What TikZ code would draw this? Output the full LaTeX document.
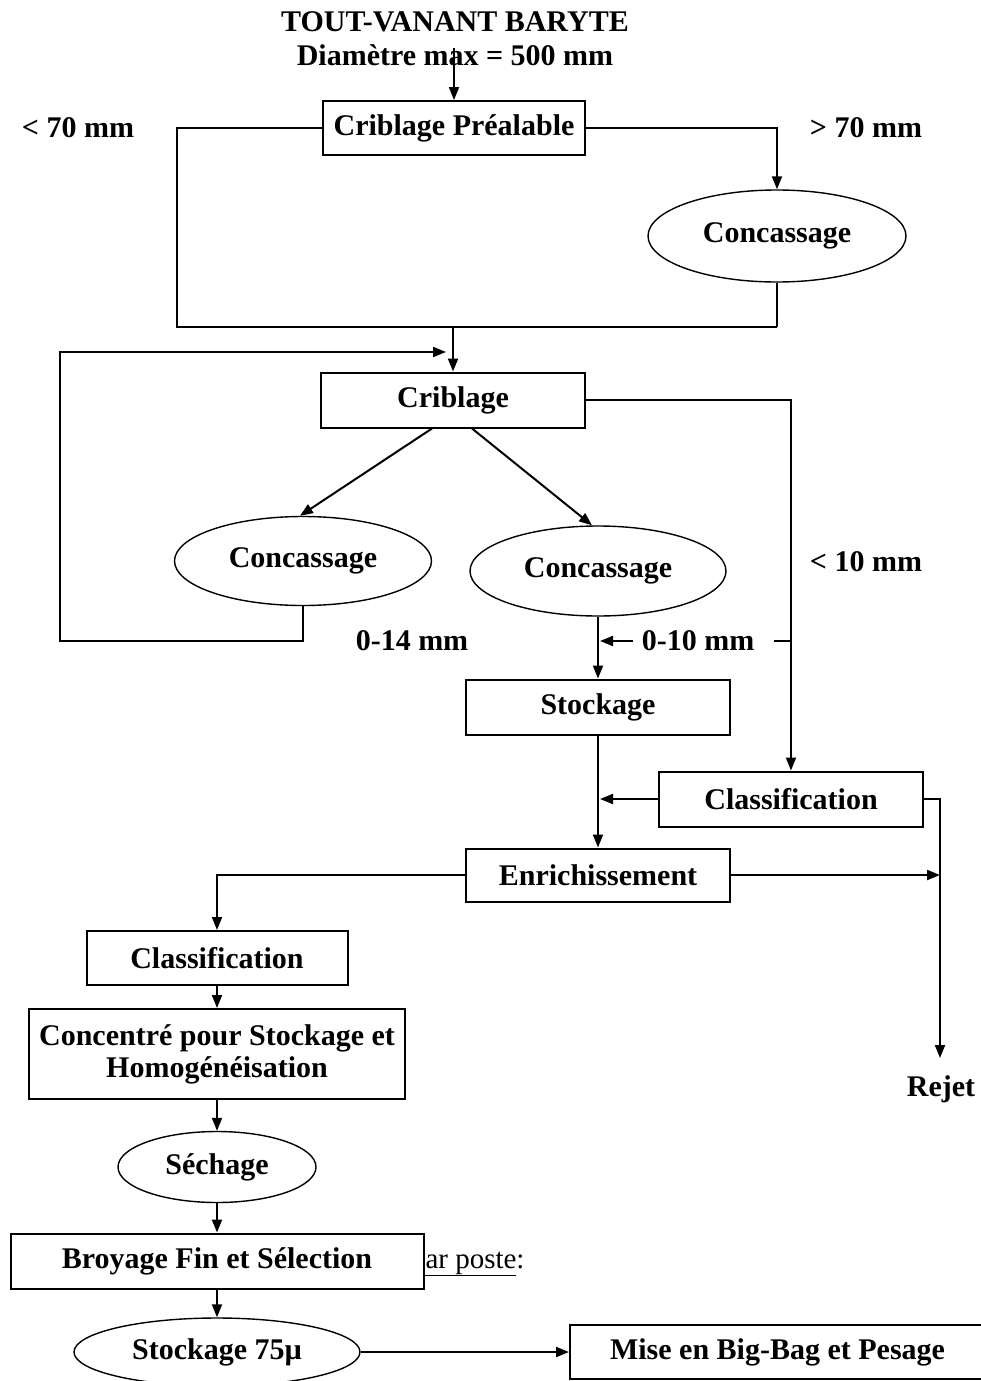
\documentclass[tikz,border=0pt]{standalone}
\usepackage{fontspec}
\setmainfont{Liberation Serif}
\usetikzlibrary{arrows.meta,shapes.geometric}
\begin{document}
\begin{tikzpicture}[x=1pt,y=-1pt,line width=2pt,
  every node/.style={font=\bfseries\fontsize{30}{32}\selectfont,inner sep=0pt},
  box/.style={draw,fill=white,rectangle,line width=2pt},
  oval/.style={draw,fill=white,ellipse,line width=1.4pt},
  arr/.style={-{Triangle[length=13pt,width=10pt]}}]
\useasboundingbox (0,0) rectangle (980,1381);
% titles
\node (t1) at (455,22) {TOUT-VANANT BARYTE};
\node (t2) at (455,55) {Diamètre max = 500 mm};
% first screening
\node[box,minimum width=262pt,minimum height=54pt] (cp) at (454,128) {Criblage Préalable};
\coordinate (t0) at (454,48);
\node (l70) at (78,128) {< 70 mm};
\node (g70) at (866,128) {> 70 mm};
\node[oval,minimum width=258pt,minimum height=92pt] (c1) at (777,236) {Concassage};
\coordinate (m1) at (177,327);
\coordinate (m2) at (777,327);
\coordinate (m0) at (453,327);
\draw[arr] (t0) -- (cp.north);
\draw (cp.west) -| (m1) -- (m2);
\draw[arr] (cp.east) -| (c1.north);
\draw (c1.south) -- (m2);
% second screening
\node[box,minimum width=264pt,minimum height=55pt] (cr) at (453,400) {Criblage};
\draw[arr] (m0) -- (cr.north);
\node[oval,minimum width=257pt,minimum height=89pt] (c2) at (303,561) {Concassage};
\node[oval,minimum width=256pt,minimum height=90pt] (c3) at (598,571) {Concassage};
\draw[arr] ([xshift=-21pt]cr.south) -- ([xshift=-3pt]c2.north);
\draw[arr] ([xshift=19pt]cr.south) -- ([xshift=-6pt]c3.north);
% recycle loop
\coordinate (lp1) at (60,641);
\coordinate (lp2) at (446,352);
\draw[arr] (c2.south) |- (lp1) |- (lp2);
\node (d14) at (412,641) {0-14 mm};
\node (l10) at (866,562) {< 10 mm};
% stockage
\node[box,minimum width=264pt,minimum height=55pt] (st) at (598,707) {Stockage};
\draw[arr] (c3.south) -- (st.north);
% right branch
\node[box,minimum width=264pt,minimum height=55pt] (cl1) at (791,799) {Classification};
\draw[arr] (cr.east) -| (cl1.north);
\coordinate (b1) at (791,641);
\coordinate (b2) at (774,641);
\draw (b1) -- (b2);
\node (d10) at (698,641) {0-10 mm};
\coordinate (b3) at (633,641);
\coordinate (b4) at (600,641);
\draw[arr] (b3) -- (b4);
% enrichissement
\node[box,minimum width=264pt,minimum height=53pt] (en) at (598,875) {Enrichissement};
\draw[arr] (st.south) -- (en.north);
\coordinate (j1) at (600,799);
\draw[arr] (cl1.west) -- (j1);
\coordinate (rj) at (940,1058);
\draw[arr] (cl1.east) -| (rj);
\node (rejet) at (941,1089) {Rejet};
\coordinate (j2) at (940,875);
\draw[arr] (en.east) -- (j2);
% left column
\node[box,minimum width=261pt,minimum height=54pt] (cl2) at (217,958) {Classification};
\draw[arr] (en.west) -| (cl2.north);
\node[box,minimum width=376pt,minimum height=90pt,align=center] (co) at (217,1054) {Concentré pour Stockage et\\Homogénéisation};
\draw[arr] (cl2.south) -- (co.north);
\node[oval,minimum width=198pt,minimum height=71pt] (se) at (217,1167) {Séchage};
\draw[arr] (co.south) -- (se.north);
\node[anchor=base west,font=\mdseries\fontsize{29}{32}\selectfont] (pp) at (410,1268) {\underline{par poste}:};
\node[box,minimum width=413pt,minimum height=55pt] (br) at (217,1261) {Broyage Fin et Sélection};
\draw[arr] (se.south) -- (br.north);
\node[oval,minimum width=286pt,minimum height=68pt] (s75) at (217,1352) {Stockage 75µ};
\draw[arr] (br.south) -- (s75.north);
\node[box,minimum width=415pt,minimum height=54pt] (mb) at (777.5,1352) {Mise en Big-Bag et Pesage};
\draw[arr] (s75.east) -- (mb.west);
\end{tikzpicture}
\end{document}
